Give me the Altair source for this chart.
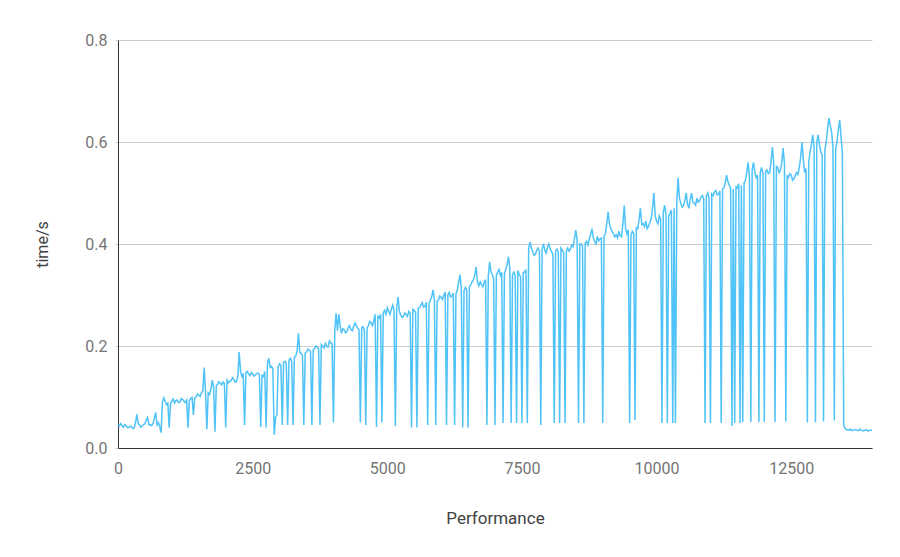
import altair as alt
import pandas as pd

# sample spacing along the Performance axis
perf_step = 25

# time per sample (seconds), one value per 25 units
time_s = [
    0.045, 0.043, 0.048, 0.044, 0.041, 0.046, 0.044, 0.040, 0.040, 0.043,
    0.042, 0.038, 0.039, 0.050, 0.066, 0.048, 0.045, 0.041, 0.043, 0.046,
    0.047, 0.055, 0.060, 0.045, 0.046, 0.044, 0.048, 0.058, 0.070, 0.045,
    0.050, 0.042, 0.030, 0.090, 0.098, 0.091, 0.085, 0.088, 0.040, 0.087,
    0.092, 0.096, 0.088, 0.093, 0.094, 0.089, 0.090, 0.097, 0.095, 0.092,
    0.089, 0.094, 0.040, 0.093, 0.097, 0.099, 0.065, 0.098, 0.100, 0.106,
    0.104, 0.101, 0.108, 0.112, 0.158, 0.110, 0.037, 0.108, 0.105, 0.115,
    0.133, 0.120, 0.032, 0.122, 0.125, 0.130, 0.127, 0.124, 0.130, 0.126,
    0.040, 0.133, 0.128, 0.131, 0.132, 0.138, 0.135, 0.129, 0.130, 0.140,
    0.188, 0.150, 0.140, 0.146, 0.045, 0.148, 0.150, 0.145, 0.142, 0.148,
    0.145, 0.141, 0.143, 0.146, 0.147, 0.144, 0.041, 0.142, 0.140, 0.150,
    0.040, 0.165, 0.176, 0.158, 0.160, 0.155, 0.026, 0.060, 0.065, 0.160,
    0.165, 0.162, 0.045, 0.168, 0.170, 0.166, 0.045, 0.172, 0.176, 0.170,
    0.045, 0.178, 0.180, 0.190, 0.225, 0.188, 0.185, 0.182, 0.045, 0.186,
    0.188, 0.194, 0.192, 0.189, 0.045, 0.193, 0.195, 0.200, 0.198, 0.194,
    0.045, 0.203, 0.200, 0.196, 0.205, 0.199, 0.198, 0.210, 0.206, 0.204,
    0.050, 0.230, 0.264, 0.230, 0.262, 0.240, 0.225, 0.234, 0.232, 0.226,
    0.228, 0.236, 0.240, 0.232, 0.230, 0.238, 0.245, 0.240, 0.235, 0.232,
    0.050, 0.236, 0.238, 0.231, 0.045, 0.236, 0.240, 0.248, 0.245, 0.240,
    0.250, 0.262, 0.041, 0.258, 0.255, 0.262, 0.050, 0.265, 0.270, 0.262,
    0.275, 0.268, 0.262, 0.272, 0.280, 0.270, 0.043, 0.275, 0.296, 0.268,
    0.260, 0.256, 0.258, 0.265, 0.262, 0.258, 0.268, 0.264, 0.040, 0.272,
    0.270, 0.266, 0.040, 0.274, 0.275, 0.280, 0.285, 0.276, 0.278, 0.286,
    0.045, 0.284, 0.290, 0.296, 0.310, 0.292, 0.045, 0.288, 0.290, 0.298,
    0.295, 0.291, 0.300, 0.306, 0.045, 0.300, 0.305, 0.296, 0.298, 0.304,
    0.045, 0.302, 0.310, 0.325, 0.340, 0.312, 0.040, 0.308, 0.315, 0.310,
    0.040, 0.316, 0.320, 0.326, 0.330, 0.340, 0.355, 0.325, 0.318, 0.326,
    0.320, 0.316, 0.325, 0.330, 0.045, 0.335, 0.365, 0.345, 0.340, 0.332,
    0.045, 0.338, 0.345, 0.350, 0.338, 0.344, 0.049, 0.342, 0.350, 0.360,
    0.375, 0.352, 0.049, 0.340, 0.345, 0.338, 0.049, 0.348, 0.340, 0.336,
    0.049, 0.344, 0.345, 0.350, 0.049, 0.390, 0.404, 0.392, 0.385, 0.378,
    0.380, 0.388, 0.392, 0.386, 0.045, 0.390, 0.400, 0.388, 0.382, 0.394,
    0.400, 0.390, 0.385, 0.380, 0.049, 0.386, 0.390, 0.384, 0.049, 0.392,
    0.388, 0.383, 0.049, 0.386, 0.392, 0.386, 0.390, 0.398, 0.395, 0.410,
    0.427, 0.408, 0.049, 0.400, 0.400, 0.396, 0.049, 0.402, 0.405, 0.398,
    0.410, 0.418, 0.430, 0.412, 0.405, 0.400, 0.415, 0.406, 0.410, 0.412,
    0.049, 0.416, 0.420, 0.440, 0.463, 0.440, 0.430, 0.424, 0.420, 0.414,
    0.418, 0.412, 0.425, 0.416, 0.414, 0.440, 0.476, 0.430, 0.420, 0.428,
    0.049, 0.418, 0.425, 0.420, 0.055, 0.432, 0.430, 0.448, 0.470, 0.438,
    0.440, 0.434, 0.445, 0.430, 0.435, 0.442, 0.450, 0.470, 0.500, 0.455,
    0.445, 0.440, 0.455, 0.448, 0.049, 0.462, 0.476, 0.458, 0.049, 0.455,
    0.460, 0.466, 0.049, 0.470, 0.049, 0.480, 0.530, 0.490, 0.480, 0.472,
    0.475, 0.485, 0.500, 0.478, 0.470, 0.488, 0.500, 0.482, 0.480, 0.476,
    0.490, 0.482, 0.485, 0.492, 0.495, 0.488, 0.049, 0.494, 0.500, 0.490,
    0.049, 0.498, 0.495, 0.502, 0.505, 0.496, 0.498, 0.504, 0.049, 0.508,
    0.510, 0.520, 0.535, 0.522, 0.515, 0.510, 0.043, 0.508, 0.049, 0.512,
    0.510, 0.518, 0.049, 0.515, 0.051, 0.520, 0.525, 0.540, 0.560, 0.530,
    0.051, 0.545, 0.560, 0.540, 0.530, 0.535, 0.051, 0.540, 0.550, 0.538,
    0.051, 0.542, 0.545, 0.538, 0.540, 0.560, 0.590, 0.560, 0.051, 0.552,
    0.550, 0.540, 0.545, 0.560, 0.588, 0.556, 0.052, 0.535, 0.530, 0.538,
    0.535, 0.525, 0.528, 0.534, 0.540, 0.536, 0.550, 0.570, 0.600, 0.565,
    0.540, 0.548, 0.050, 0.560, 0.580, 0.595, 0.614, 0.590, 0.050, 0.600,
    0.614, 0.595, 0.580, 0.575, 0.052, 0.585, 0.600, 0.625, 0.647, 0.632,
    0.620, 0.590, 0.054, 0.585, 0.600, 0.625, 0.643, 0.610, 0.578, 0.045,
    0.038, 0.036, 0.036, 0.035, 0.037, 0.034, 0.035, 0.036, 0.036, 0.035,
    0.034, 0.037, 0.035, 0.034, 0.034, 0.035, 0.036, 0.033, 0.034, 0.035,
    0.035,
]

x_ticks = [0, 2500, 5000, 7500, 10000, 12500]
y_ticks = [0.0, 0.2, 0.4, 0.6, 0.8]

perf = [i * perf_step for i in range(len(time_s))]
df = pd.DataFrame({"Performance": perf, "time": time_s})

FONT = "Roboto"
W, H = 754, 408

chart = (
    alt.Chart(df)
    .mark_line(color="#4fc3f7", strokeWidth=1.5)
    .encode(
        x=alt.X(
            "Performance:Q",
            scale=alt.Scale(domain=[0, 14000], nice=False, zero=False),
            axis=alt.Axis(
                values=x_ticks,
                format="d",
                grid=False,
                ticks=False,
                domainColor="#333333",
                domainWidth=1,
                labelColor="#757575",
                labelFont=FONT,
                labelFontSize=16,
                labelPadding=12,
                labelFlush=False,
                title="Performance",
                titleFont=FONT,
                titleFontSize=17,
                titleFontWeight="normal",
                titleColor="#424242",
                titleX=W / 2,
                titleY=70,
                titleAlign="center",
                titleBaseline="middle",
            ),
        ),
        y=alt.Y(
            "time:Q",
            scale=alt.Scale(domain=[0, 0.8], nice=False),
            axis=alt.Axis(
                values=y_ticks,
                format=".1f",
                grid=True,
                gridColor="#cccccc",
                gridWidth=1,
                ticks=True,
                tickSize=3,
                tickColor="#cccccc",
                domainColor="#333333",
                domainWidth=1,
                labelColor="#757575",
                labelFont=FONT,
                labelFontSize=16,
                labelPadding=8,
                labelFlush=False,
                title="time/s",
                titleFont=FONT,
                titleFontSize=16,
                titleFontWeight="normal",
                titleColor="#424242",
                titleAngle=-90,
                titleX=-76,
                titleY=H / 2,
                titleAlign="center",
                titleBaseline="middle",
            ),
        ),
    )
    .properties(
        width=W,
        height=H,
        autosize=alt.AutoSizeParams(type="none"),
        padding={"left": 110, "top": 32, "right": 20, "bottom": 90},
    )
    .configure_view(stroke=None)
)

chart.save("out.html", embed_options={"renderer": "svg", "actions": False})
